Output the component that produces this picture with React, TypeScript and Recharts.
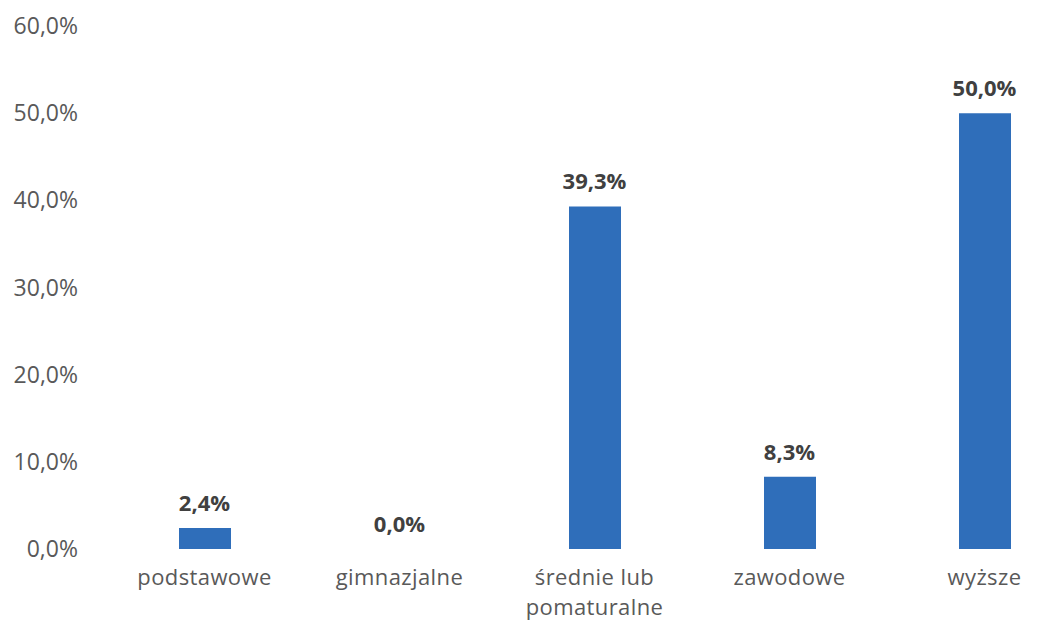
import React from "react";
import { ComposedChart, Bar, Line, XAxis, YAxis } from "recharts";

const categories = ["podstawowe", "gimnazjalne", "średnie lub\npomaturalne", "zawodowe", "wyższe"];
const values = [2.4, 0.0, 39.3, 8.3, 50.0];
const yTicks = [0, 10, 20, 30, 40, 50, 60];

const data = categories.map((c, i) => ({ name: c, value: values[i] }));

const fmt = (v: number) => v.toFixed(1).replace(".", ",") + "%";

const FONT = "'Open Sans', 'Noto Sans', sans-serif";

const CatTick = (props: any) => {
  const { x, y, payload } = props;
  const lines = String(payload.value).split("\n");
  return (
    <text x={x} y={y} textAnchor="middle" fill="#595959" fontFamily={FONT} fontSize={22} letterSpacing={0.4}>
      {lines.map((l, i) => (
        <tspan key={i} x={x} dy={i === 0 ? 28 : 30}>
          {l}
        </tspan>
      ))}
    </text>
  );
};

const ValueLabel = (props: any) => {
  const { x, y, value } = props;
  if (x == null || y == null) return null;
  return (
    <text
      x={x}
      y={y - 17}
      textAnchor="middle"
      fill="#404040"
      fontFamily={FONT}
      fontSize={22}
      fontWeight={700}
    >
      {fmt(Number(value))}
    </text>
  );
};

export default function App() {
  return (
    <div style={{ position: "absolute", left: 0, top: 0, width: 1037, height: 623, overflow: "hidden", background: "#fff" }}>
      <ComposedChart
        width={1110}
        height={623}
        data={data}
        margin={{ top: 26, right: 28, bottom: 0, left: 0 }}
      >
        <XAxis
          dataKey="name"
          axisLine={false}
          tickLine={false}
          height={74}
          interval={0}
          tick={<CatTick />}
        />
        <YAxis
          domain={[0, 60]}
          ticks={yTicks}
          axisLine={false}
          tickLine={false}
          width={107}
          tickSize={0}
          tickMargin={29}
          tickFormatter={fmt}
          tick={{ fill: "#595959", fontFamily: FONT, fontSize: 23 }}
        />
        <Bar dataKey="value" fill="#2F6EBA" barSize={52} isAnimationActive={false} />
        <Line
          dataKey="value"
          stroke="none"
          dot={false}
          activeDot={false}
          isAnimationActive={false}
          label={<ValueLabel />}
        />
      </ComposedChart>
    </div>
  );
}
